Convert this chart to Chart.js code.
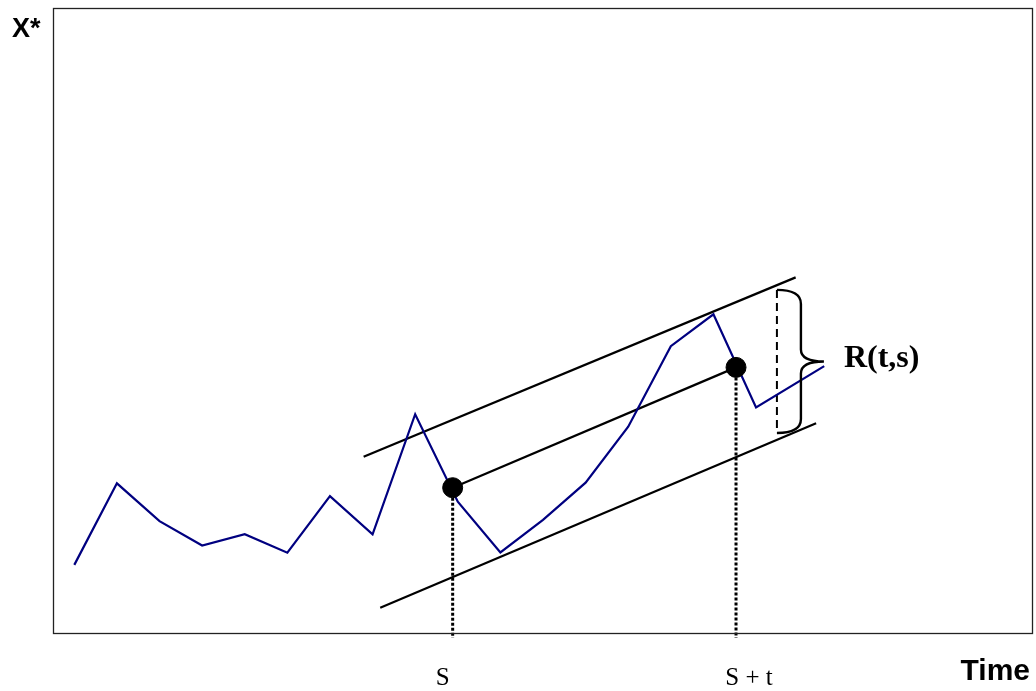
<!DOCTYPE html>
<html>
<head>
<meta charset="utf-8">
<script src="https://cdn.jsdelivr.net/npm/chart.js@4/dist/chart.umd.min.js"></script>
<style>
  html, body { margin: 0; padding: 0; background: #fff; overflow: hidden; }
  #wrap { width: 1036px; height: 691px; position: relative; }
</style>
</head>
<body>
<div id="wrap"><canvas id="c"></canvas></div>
<script>
// ---- data (time units / X* units) ----
const seriesX = [0, 1, 2, 3, 4, 5, 6, 7, 8, 9, 10, 11, 12, 13, 14, 15, 16, 17.6];
const seriesY = [10.9, 23.95, 17.9, 14.0, 15.8, 12.85, 21.9, 15.8, 35.0, 21.0, 12.9, 18.1, 24.05, 33.0, 45.9, 51.0, 36.1, 42.7];

const upperX = [6.79, 16.93];
const upperY = [28.2, 56.9];
const middleX = [8.88, 15.53];
const middleY = [23.25, 42.5];
const lowerX = [7.18, 17.41];
const lowerY = [4.05, 33.55];

const markX = [8.88, 15.53];          // S and S + t
const markY = [23.25, 42.5];
const markLabels = ['S', 'S + t'];
const dropBottom = -0.8;

const rangeX = 16.49;                 // dashed R(t,s) segment
const rangeTop = 54.9;
const rangeBottom = 32.0;

const yLabel = 'X*';
const xLabel = 'Time';
const rangeLabel = 'R(t,s)';

const pts = (xs, ys) => xs.map((x, i) => ({ x, y: ys[i] }));

const framePlugin = {
  id: 'frame',
  afterDraw(chart) {
    const { ctx, chartArea: a, scales } = chart;
    const sx = scales.x, sy = scales.y;
    ctx.save();
    // frame
    ctx.strokeStyle = '#222';
    ctx.lineWidth = 1.3;
    ctx.strokeRect(a.left + 0.5, a.top + 0.5, a.right - a.left - 1, a.bottom - a.top);

    // brace
    const bx = sx.getPixelForValue(rangeX);
    const yt = sy.getPixelForValue(rangeTop);
    const yb = sy.getPixelForValue(rangeBottom);
    const mid = (yt + yb) / 2;
    const cx = bx + 24, tip = bx + 47;
    ctx.strokeStyle = '#000';
    ctx.lineWidth = 2.4;
    ctx.beginPath();
    ctx.moveTo(bx, yt);
    ctx.quadraticCurveTo(cx, yt, cx, yt + 14);
    ctx.lineTo(cx, mid - 12);
    ctx.quadraticCurveTo(cx, mid, tip, mid);
    ctx.moveTo(tip, mid);
    ctx.quadraticCurveTo(cx, mid, cx, mid + 12);
    ctx.lineTo(cx, yb - 14);
    ctx.quadraticCurveTo(cx, yb, bx, yb);
    ctx.stroke();

    // texts
    ctx.fillStyle = '#000';
    ctx.textBaseline = 'alphabetic';
    ctx.font = 'bold 27px "Liberation Sans", Arial, sans-serif';
    ctx.textAlign = 'left';
    ctx.fillText(yLabel, 12, 37);
    ctx.font = 'bold 30px "Liberation Sans", Arial, sans-serif';
    ctx.textAlign = 'right';
    ctx.fillText(xLabel, 1030, 680);

    ctx.font = '25px "Liberation Serif", "Times New Roman", serif';
    ctx.textAlign = 'center';
    ctx.fillText(markLabels[0], sx.getPixelForValue(markX[0]) - 10, 685);
    ctx.fillText(markLabels[1], sx.getPixelForValue(markX[1]) + 13, 685);

    ctx.font = 'bold 32px "Liberation Serif", "Times New Roman", serif';
    ctx.textAlign = 'left';
    ctx.fillText(rangeLabel, tip + 20, mid + 6);
    ctx.restore();
  }
};

new Chart(document.getElementById('c'), {
  type: 'scatter',
  data: {
    datasets: [
      { data: pts(markX, markY), backgroundColor: '#000', borderColor: '#000', pointRadius: 10, showLine: false, order: 0 },
      { data: pts(seriesX, seriesY), borderColor: '#000080', borderWidth: 2.2, pointRadius: 0, showLine: true, order: 2 },
      { data: pts(upperX, upperY), borderColor: '#000', borderWidth: 2.2, pointRadius: 0, showLine: true, order: 3 },
      { data: pts(middleX, middleY), borderColor: '#000', borderWidth: 2.2, pointRadius: 0, showLine: true, order: 3 },
      { data: pts(lowerX, lowerY), borderColor: '#000', borderWidth: 2.2, pointRadius: 0, showLine: true, order: 3 },
      { data: [{ x: markX[0], y: markY[0] }, { x: markX[0], y: dropBottom }], borderColor: '#000', borderWidth: 3, borderDash: [3, 2], pointRadius: 0, showLine: true, clip: false, order: 4 },
      { data: [{ x: markX[1], y: markY[1] }, { x: markX[1], y: dropBottom }], borderColor: '#000', borderWidth: 3, borderDash: [3, 2], pointRadius: 0, showLine: true, clip: false, order: 4 },
      { data: [{ x: rangeX, y: rangeTop }, { x: rangeX, y: rangeBottom }], borderColor: '#000', borderWidth: 2, borderDash: [8, 5], pointRadius: 0, showLine: true, order: 4 }
    ]
  },
  options: {
    responsive: true,
    maintainAspectRatio: false,
    animation: false,
    layout: { autoPadding: false, padding: { left: 53, top: 8, right: 3, bottom: 58 } },
    plugins: { legend: { display: false }, tooltip: { enabled: false } },
    scales: {
      x: { type: 'linear', min: -0.5, max: 22.5, display: false },
      y: { type: 'linear', min: 0, max: 100, display: false }
    }
  },
  plugins: [framePlugin]
});
</script>
</body>
</html>
